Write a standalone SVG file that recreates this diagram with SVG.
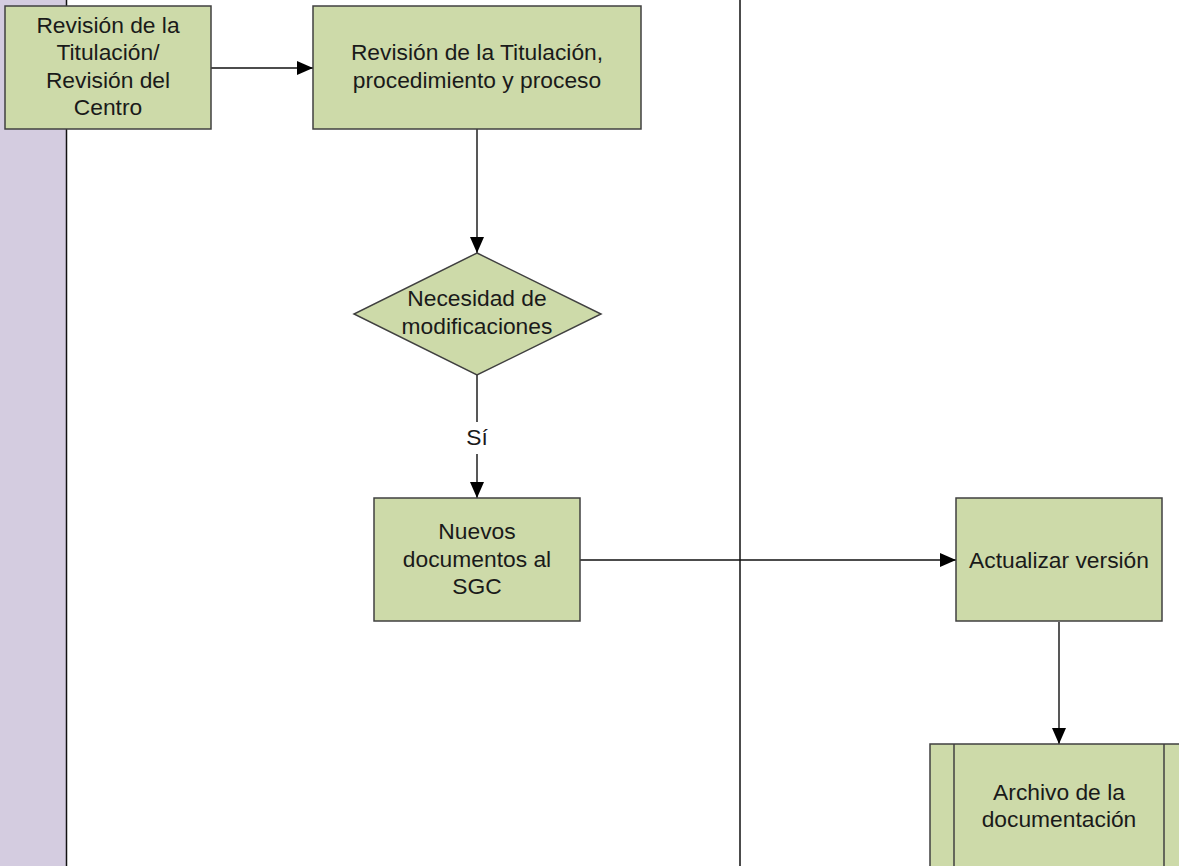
<svg xmlns="http://www.w3.org/2000/svg" width="1179" height="866" viewBox="0 0 1179 866">
<style>
.n{fill:#cddaa9;stroke:#404040;stroke-width:1.5}
.t{font-family:"Liberation Sans",Arial,sans-serif;font-size:22.8px;fill:#1a1a1a;text-anchor:middle}
.c{fill:none;stroke:#111;stroke-width:1.4}
.lane{stroke:#111;stroke-width:1.5}
</style>
<defs>
<marker id="a" markerWidth="16" markerHeight="14" refX="16" refY="7" orient="auto" markerUnits="userSpaceOnUse">
<path d="M0,0 L16,7 L0,14 Z" fill="#000"/>
</marker>
</defs>
<rect width="1179" height="866" fill="#fff"/>
<g id="lanes">
<rect x="0" y="0" width="66" height="866" fill="#d4cce0"/>
<line class="lane" x1="66.5" y1="0" x2="66.5" y2="866"/>
<line class="lane" x1="740" y1="0" x2="740" y2="866"/>
</g>
<g id="connectors">
<line class="c" x1="211" y1="68" x2="313" y2="68" marker-end="url(#a)"/>
<line class="c" x1="477" y1="129" x2="477" y2="253" marker-end="url(#a)"/>
<line class="c" x1="477" y1="375" x2="477" y2="422"/>
<line class="c" x1="477" y1="454" x2="477" y2="498" marker-end="url(#a)"/>
<text class="t" x="477" y="445">Sí</text>
<line class="c" x1="580" y1="560" x2="956" y2="560" marker-end="url(#a)"/>
<line class="c" x1="1059" y1="622" x2="1059" y2="744" marker-end="url(#a)"/>
</g>
<g id="n1">
<rect class="n" x="5" y="6" width="206" height="123"/>
<text class="t" x="108" y="33">Revisión de la</text>
<text class="t" x="108" y="60">Titulación/</text>
<text class="t" x="108" y="88">Revisión del</text>
<text class="t" x="108" y="115">Centro</text>
</g>
<g id="n2">
<rect class="n" x="313" y="6" width="328" height="123"/>
<text class="t" x="477" y="60">Revisión de la Titulación,</text>
<text class="t" x="477" y="88">procedimiento y proceso</text>
</g>
<g id="n3">
<polygon class="n" points="477,253 601,314 477,375 354,314"/>
<text class="t" x="477" y="306">Necesidad de</text>
<text class="t" x="477" y="334">modificaciones</text>
</g>
<g id="n4">
<rect class="n" x="374" y="498" width="206" height="123"/>
<text class="t" x="477" y="539">Nuevos</text>
<text class="t" x="477" y="567">documentos al</text>
<text class="t" x="477" y="594">SGC</text>
</g>
<g id="n5">
<rect class="n" x="956" y="498" width="206" height="123"/>
<text class="t" x="1059" y="568">Actualizar versión</text>
</g>
<g id="n6">
<rect class="n" x="930" y="744" width="258" height="140"/>
<line class="n" x1="954" y1="744" x2="954" y2="866"/>
<line class="n" x1="1164" y1="744" x2="1164" y2="866"/>
<text class="t" x="1059" y="800">Archivo de la</text>
<text class="t" x="1059" y="827">documentación</text>
</g>
</svg>
